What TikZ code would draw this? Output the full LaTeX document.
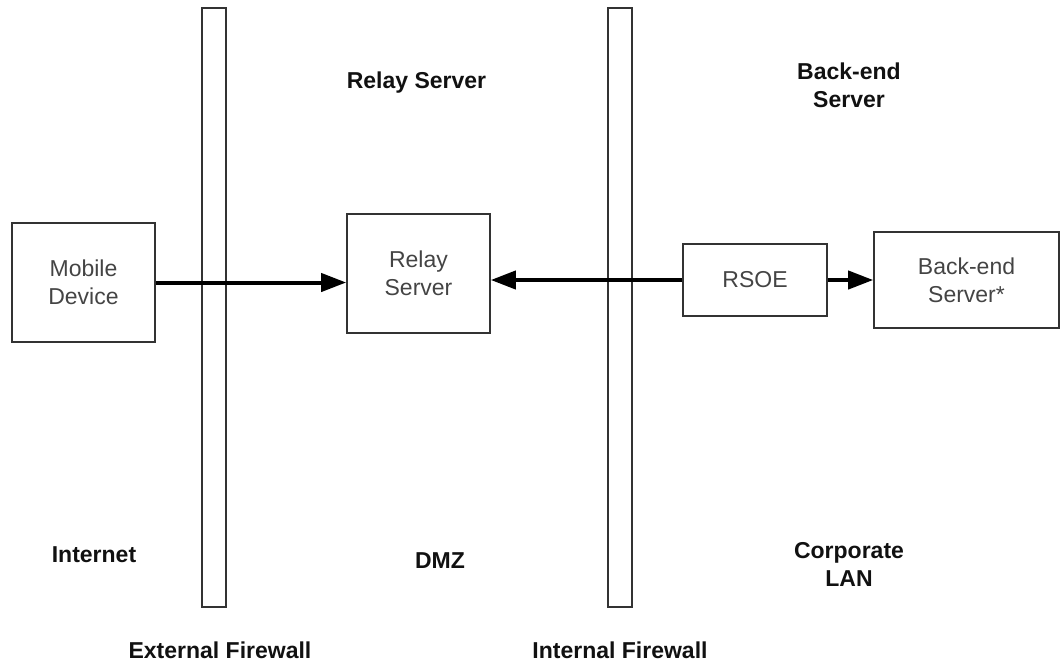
\documentclass[tikz,border=0pt]{standalone}
\usepackage{fontspec}
\setmainfont{Liberation Sans}
\usepackage{tikz}
\usetikzlibrary{arrows.meta}
\usepackage{xcolor}
\definecolor{boxline}{HTML}{333333}
\definecolor{boxtext}{HTML}{444444}
\definecolor{zonetext}{HTML}{111111}

\begin{document}
\begin{tikzpicture}[x=1pt,y=-1pt,
  box/.style={draw=boxline,line width=1.6pt,text=boxtext,align=center,inner sep=0pt,
    font=\fontsize{23}{28}\selectfont},
  wall/.style={draw=boxline,line width=1.4pt,minimum width=24pt,minimum height=599pt,inner sep=0pt},
  zone/.style={text=zonetext,align=center,anchor=base,font=\fontsize{23}{28}\selectfont\bfseries},
  link/.style={line width=4pt,-{Triangle[length=25pt,width=18pt]}}]
  \useasboundingbox (0,0) rectangle (1062,665);

  % Firewalls
  \node[wall] (extfw) at (214,307.5) {};
  \node[wall] (intfw) at (620,307.5) {};

  % Boxes
  \node[box,minimum width=143pt,minimum height=119pt] (mobile) at (83.5,282.5) {Mobile\\Device};
  \node[box,minimum width=143pt,minimum height=119pt] (relay) at (418.5,273.5) {Relay\\Server};
  \node[box,minimum width=144pt,minimum height=72pt] (rsoe) at (755,280) {RSOE};
  \node[box,minimum width=185pt,minimum height=96pt] (backend) at (966.5,280) {Back-end\\Server*};

  % Connections
  \draw[link] (mobile.east) -- (mobile.east -| relay.west);
  \draw[link] (rsoe.west) -- (rsoe.west -| relay.east);
  \draw[link] (rsoe.east) -- (rsoe.east -| backend.west);

  % Zone labels
  \node[zone] (lblrelay) at (416.5,88) {Relay Server};
  \node[zone] (lblbackend) at (849,107) {Back-end\\Server};
  \node[zone] (lblinternet) at (94,562) {Internet};
  \node[zone] (lbldmz) at (440,568) {DMZ};
  \node[zone] (lblcorp) at (849,586) {Corporate\\LAN};
  \node[zone] (lblextfw) at (220,658) {External Firewall};
  \node[zone] (lblintfw) at (620,658) {Internal Firewall};
\end{tikzpicture}
\end{document}
